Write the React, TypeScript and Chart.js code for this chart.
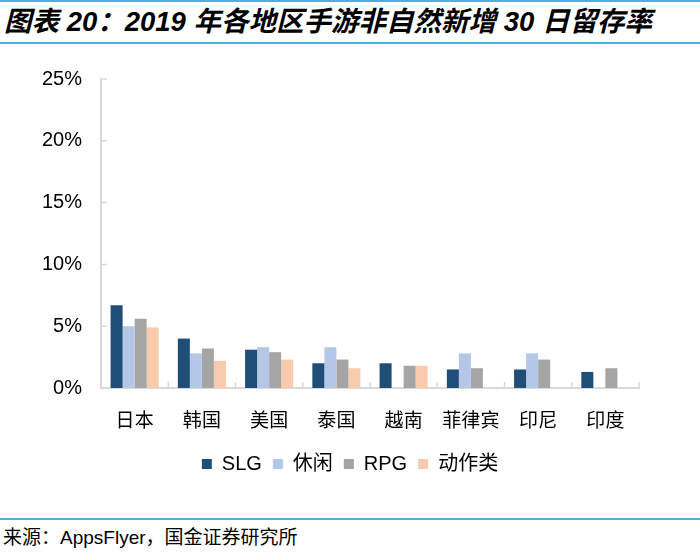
import React, { useEffect, useRef } from "react";
import { Chart, registerables } from "chart.js";

Chart.register(...registerables);

const categories = ["日本", "韩国", "美国", "泰国", "越南", "菲律宾", "印尼", "印度"];
const seriesNames = ["SLG", "休闲", "RPG", "动作类"];
const slg = [6.7, 4.0, 3.1, 2.0, 2.0, 1.5, 1.5, 1.3];
const casual = [5.0, 2.8, 3.3, 3.3, null, 2.8, 2.8, null];
const rpg = [5.6, 3.2, 2.9, 2.3, 1.8, 1.6, 2.3, 1.6];
const action = [4.9, 2.2, 2.3, 1.6, 1.8, null, null, null];
const yTicks = [0, 5, 10, 15, 20, 25];

const COLORS = ["#1F4E79", "#B4C7E7", "#A5A5A5", "#F8CBAD"];
const AXIS = "#D9D9D9";
const LINE_BLUE = "#4FAEDB";
const LATIN_CJK = '"Liberation Sans", Arial, "Noto Sans CJK SC", sans-serif';

const inwardTicks = {
  id: "inwardTicks",
  afterDatasetsDraw(chart: any) {
    const { ctx } = chart;
    const x = chart.scales.x;
    const y = chart.scales.y;
    ctx.save();
    ctx.strokeStyle = AXIS;
    ctx.lineWidth = 1.5;
    ctx.beginPath();
    const n = x.ticks.length;
    const step = x.width / n;
    for (let i = 0; i <= n; i++) {
      const px = x.left + i * step;
      ctx.moveTo(px, x.top);
      ctx.lineTo(px, x.top - 6);
    }
    y.ticks.forEach((t: any) => {
      const py = y.getPixelForValue(t.value);
      ctx.moveTo(y.right, py);
      ctx.lineTo(y.right + 6, py);
    });
    ctx.stroke();
    ctx.restore();
  },
};

// centre the legend on the whole canvas rather than on the padded box
const centerLegend = {
  id: "centerLegend",
  afterLayout(chart: any) {
    const lg = chart.legend;
    if (!lg) return;
    const shift = chart.width / 2 - (lg.left + lg.right) / 2;
    lg.left += shift;
    lg.right += shift;
  },
};

export default function App() {
  const ref = useRef<HTMLCanvasElement | null>(null);

  useEffect(() => {
    if (!ref.current) return;
    const data = [slg, casual, rpg, action];
    const chart = new Chart(ref.current, {
      type: "bar",
      data: {
        labels: categories,
        datasets: seriesNames.map((name, i) => ({
          label: name,
          data: data[i] as any,
          backgroundColor: COLORS[i],
          borderWidth: 0,
          categoryPercentage: 0.715,
          barPercentage: 1.0,
        })),
      },
      options: {
        animation: false,
        responsive: false,
        maintainAspectRatio: false,
        layout: { padding: { top: 27, right: 61, bottom: 14, left: 0 } },
        plugins: {
          legend: {
            position: "bottom",
            labels: {
              boxWidth: 10,
              boxHeight: 10,
              padding: 11,
              color: "#000",
              font: { family: LATIN_CJK, size: 20 },
            },
          },
          tooltip: { enabled: false },
          title: { display: false },
        },
        scales: {
          x: {
            grid: { display: false, drawTicks: false },
            border: { color: AXIS, width: 2 },
            ticks: {
              color: "#000",
              padding: 22,
              font: { family: LATIN_CJK, size: 19 },
            },
            afterFit: (s: any) => {
              s.height = 55;
            },
          },
          y: {
            min: 0,
            max: 25,
            afterBuildTicks: (s: any) => {
              s.ticks = yTicks.map((v) => ({ value: v }));
            },
            grid: { display: false, drawTicks: false },
            border: { color: AXIS, width: 2 },
            ticks: {
              color: "#000",
              padding: 19,
              font: { family: LATIN_CJK, size: 20 },
              callback: (v: any) => `${v}%`,
            },
            afterFit: (s: any) => {
              s.width = 101;
            },
          },
        },
      },
      plugins: [inwardTicks, centerLegend],
    });
    return () => chart.destroy();
  }, []);

  return (
    <div
      style={{
        position: "absolute",
        left: 0,
        top: 0,
        width: 700,
        height: 552,
        background: "#fff",
        overflow: "hidden",
      }}
    >
      <div style={{ position: "absolute", left: 0, top: 0, width: 700, height: 2, background: LINE_BLUE }} />
      <div
        style={{
          position: "absolute",
          left: 4,
          top: 5,
          whiteSpace: "nowrap",
          fontFamily: LATIN_CJK,
          fontWeight: "bold",
          fontStyle: "italic",
          fontSize: 27.5,
          lineHeight: "34px",
          color: "#000",
        }}
      >
        图表 20：2019 年各地区手游非自然新增 30 日留存率
      </div>
      <div style={{ position: "absolute", left: 0, top: 42, width: 700, height: 2, background: LINE_BLUE }} />
      <canvas
        ref={ref}
        width={700}
        height={450}
        style={{ position: "absolute", left: 0, top: 48, width: 700, height: 450 }}
      />
      <div style={{ position: "absolute", left: 0, top: 518, width: 700, height: 2, background: LINE_BLUE }} />
      <div
        style={{
          position: "absolute",
          left: 3,
          top: 526,
          whiteSpace: "nowrap",
          fontFamily: LATIN_CJK,
          fontSize: 19,
          lineHeight: "24px",
          color: "#000",
        }}
      >
        来源：AppsFlyer，国金证券研究所
      </div>
    </div>
  );
}
